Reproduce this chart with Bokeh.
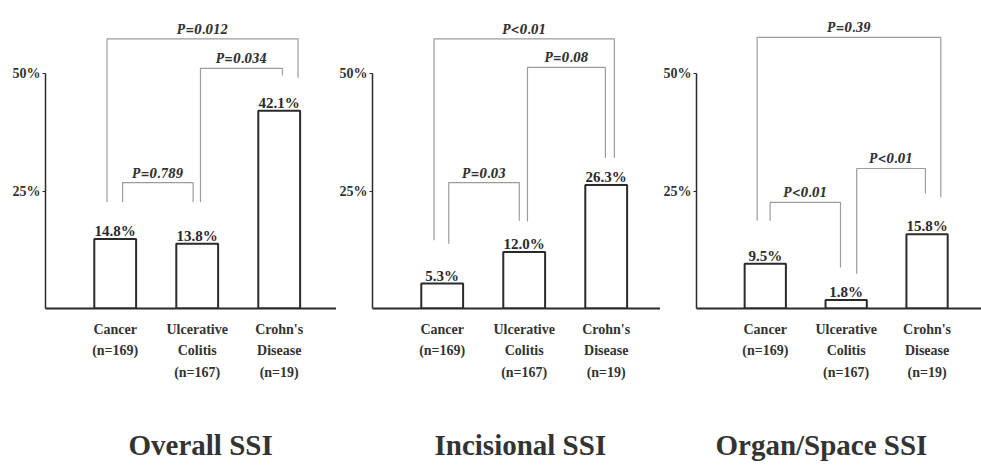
from bokeh.plotting import figure
from bokeh.layouts import row
from bokeh.models import FixedTicker, Range1d, ColumnDataSource
from bokeh.core.properties import value
from bokeh.embed import file_html
from bokeh.resources import INLINE

# ---------------- data ----------------
categories = ["Cancer\n(n=169)", "Ulcerative\nColitis\n(n=167)", "Crohn's\nDisease\n(n=19)"]
panel_titles = ["Overall SSI", "Incisional SSI", "Organ/Space SSI"]

overall_ssi = [14.8, 13.8, 42.1]
incisional_ssi = [5.3, 12.0, 26.3]
organ_space_ssi = [9.5, 1.8, 15.8]

y_ticks = [25, 50]
y_tick_labels = ["25%", "50%"]

# p-value brackets: (x_left, x_right, y_top, y_left_end, y_right_end, label)
overall_p = [
    (0.90, 3.23, 57.4, 22.6, 49.1, "P=0.012"),
    (2.04, 3.04, 51.1, 22.6, 49.6, "P=0.034"),
    (1.09, 1.95, 26.8, 22.6, 22.6, "P=0.789"),
]
incisional_p = [
    (0.90, 3.10, 57.4, 14.5, 32.1, "P<0.01"),
    (2.04, 2.99, 51.3, 18.5, 32.1, "P=0.08"),
    (1.08, 1.94, 26.8, 13.8, 18.7, "P=0.03"),
]
organ_space_p = [
    (0.90, 3.17, 57.7, 18.7, 23.6, "P=0.39"),
    (2.13, 2.98, 29.8, 7.4, 24.5, "P<0.01"),
    (1.06, 1.93, 22.6, 18.7, 8.7, "P<0.01"),
]

SERIF = "Liberation Serif"
PFONT = "DejaVu Serif Condensed"
INK = "#2a2a2a"
BRACKET = "#9c9c9c"


def make_panel(vals, brackets, title, border_left, frame_w, spacing, title_offset):
    x0 = 0.15
    p = figure(
        frame_width=frame_w, frame_height=296,
        min_border_left=border_left, min_border_right=0,
        min_border_top=12, min_border_bottom=0,
        x_range=Range1d(x0, x0 + frame_w / spacing),
        y_range=Range1d(0, 63),
        output_backend="svg", toolbar_location=None,
        title=title, title_location="below",
    )
    p.outline_line_color = None
    p.grid.visible = False
    p.background_fill_color = "white"
    p.border_fill_color = "white"

    xs = [1, 2, 3]
    src = ColumnDataSource(dict(
        x=xs, top=vals, lab=[f"{v:.1f}%" for v in vals]))
    p.vbar(x="x", top="top", bottom=0, width=0.51, source=src,
           fill_color="white", line_color=INK, line_width=2)
    p.text(x="x", y="top", text="lab", source=src,
           text_font=value(SERIF), text_font_style="bold", text_font_size="15px",
           text_color=INK, text_align="center", text_baseline="alphabetic",
           y_offset=-8)

    bxs = [[b[0], b[0], b[1], b[1]] for b in brackets]
    bys = [[b[3], b[2], b[2], b[4]] for b in brackets]
    p.multi_line(bxs, bys, line_color=BRACKET, line_width=1.2)
    p.text(x=[(b[0] + b[1]) / 2 for b in brackets], y=[b[2] for b in brackets],
           text=[b[5] for b in brackets],
           text_font=value(PFONT), text_font_style="bold italic", text_font_size="12px",
           text_color="#333333", text_align="center", text_baseline="alphabetic",
           y_offset=-9)

    # y axis
    ya = p.yaxis[0]
    ya.ticker = FixedTicker(ticks=y_ticks)
    ya.major_label_overrides = {t: l for t, l in zip(y_ticks, y_tick_labels)}
    ya.bounds = (0, 50)
    ya.minor_tick_line_color = None
    ya.major_tick_in = 0
    ya.major_tick_out = 3
    ya.major_tick_line_color = INK
    ya.axis_line_color = INK
    ya.axis_line_width = 1.5
    ya.major_label_standoff = 2
    ya.major_label_text_font = SERIF
    ya.major_label_text_font_style = "bold"
    ya.major_label_text_font_size = "14px"
    ya.major_label_text_color = "#333333"

    # x axis
    xa = p.xaxis[0]
    xa.ticker = FixedTicker(ticks=xs)
    xa.major_label_overrides = {i: c for i, c in zip(xs, categories)}
    xa.minor_tick_line_color = None
    xa.major_tick_line_color = None
    xa.major_tick_in = 0
    xa.major_tick_out = 0
    xa.axis_line_color = INK
    xa.axis_line_width = 2
    xa.major_label_standoff = 13
    xa.major_label_text_font = SERIF
    xa.major_label_text_font_style = "bold"
    xa.major_label_text_font_size = "14px"
    xa.major_label_text_line_height = 1.45
    xa.major_label_text_color = "#333333"

    p.title.align = "left"
    p.title.offset = title_offset
    p.title.text_font = SERIF
    p.title.text_font_style = "bold"
    p.title.text_font_size = "29px"
    p.title.text_color = "#333333"
    p.title.standoff = 86
    return p


p1 = make_panel(overall_ssi, overall_p, panel_titles[0], 45, 291, 82.0, 83)
p2 = make_panel(incisional_ssi, incisional_p, panel_titles[1], 32, 288, 82.0, 62)
p3 = make_panel(organ_space_ssi, organ_space_p, panel_titles[2], 33, 292, 80.9, 19)

layout = row(p1, p2, p3)
open("out.html", "w").write(file_html(layout, INLINE))
